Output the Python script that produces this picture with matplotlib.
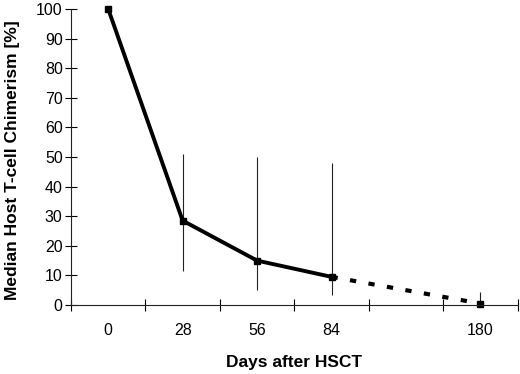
import numpy as np
import matplotlib
matplotlib.use("Agg")
import matplotlib.pyplot as plt

plt.rcParams["font.family"] = ["Liberation Sans", "DejaVu Sans"]

# categories on the x axis (blank slot between 84 and 180)
categories = ["0", "28", "56", "84", "", "180"]

# median chimerism, solid part (days 0..84)
solid_pos = [0, 1, 2, 3]
solid_vals = [100, 28.5, 15, 9.5]

# dashed extrapolation 84 -> 180
dash_pos = [3, 4, 5]
dash_vals = [9.5, 5, 0.5]

# range bars
bar_pos = [1, 2, 3, 5]
bar_low = [11.5, 5, 3.4, 0]
bar_high = [51, 50, 48, 4.5]

fig = plt.figure(figsize=(5.2, 3.74), dpi=100)
ax = fig.add_axes([0.1365, 0.1845, 0.859, 0.7915])

ax.vlines(bar_pos, bar_low, bar_high, color="#222222", lw=0.8)
ax.plot(dash_pos, dash_vals, color="black", lw=3, linestyle=(0, (1.5, 3)),
        dash_capstyle="butt")
ax.plot(solid_pos, solid_vals, color="black", lw=2.8, marker="s", ms=4)
ax.plot([5], [0.5], color="black", marker="s", ms=5, linestyle="none")

ax.set_xlim(-0.5, 5.5)
ax.set_ylim(0, 100)
ax.set_yticks(np.arange(0, 101, 10))
ax.set_xticks(np.arange(-0.5, 5.6, 1))
ax.set_xticklabels([])
ax.set_xticks(np.arange(len(categories)), minor=True)
ax.set_xticklabels(categories, minor=True)
ax.tick_params(axis="x", which="minor", length=0, pad=13, labelsize=11.5)
ax.tick_params(axis="x", which="major", direction="inout", length=8, width=0.8)
ax.tick_params(axis="y", direction="inout", length=8, width=0.8, labelsize=11.5, pad=2)

for s in ["top", "right"]:
    ax.spines[s].set_visible(False)
for s in ["left", "bottom"]:
    ax.spines[s].set_linewidth(0.8)
    ax.spines[s].set_color("#222222")

ax.set_xlabel("Days after HSCT", fontsize=12.5, fontweight="bold")
ax.set_ylabel("Median Host T-cell Chimerism [%]", fontsize=12.5, fontweight="bold")
ax.xaxis.set_label_coords(0.5, -0.17)
ax.yaxis.set_label_coords(-0.115, 0.49)
for line in ax.lines:
    line.set_clip_on(False)

fig.savefig("out.png", dpi=100)
